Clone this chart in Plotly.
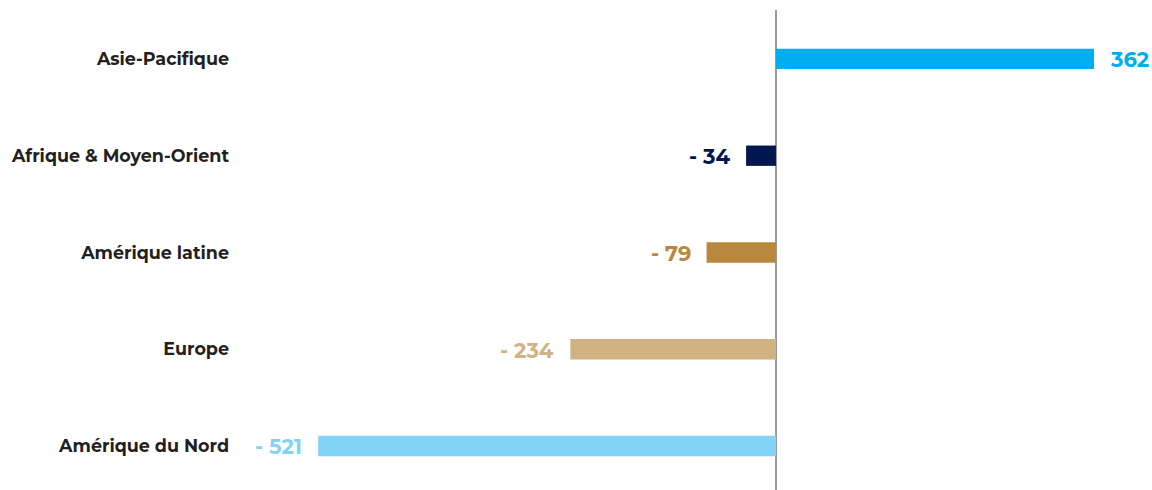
import plotly.graph_objects as go

regions = ["Amérique du Nord", "Europe", "Amérique latine", "Afrique & Moyen-Orient", "Asie-Pacifique"]
values = [-521, -234, -79, -34, 362]
labels = ["- 521", "- 234", "- 79", "- 34", "362"]
colors = ["#83D3F6", "#D1B283", "#B8893D", "#02164F", "#00AEEF"]

fig = go.Figure()
fig.add_trace(go.Bar(
    y=regions, x=values, orientation="h",
    marker=dict(color=colors, line=dict(width=0)),
    width=0.21, hoverinfo="skip",
))

for r, v, lab, c in zip(regions, values, labels, colors):
    fig.add_annotation(
        x=v, y=r, text=f"<b>{lab}</b>", showarrow=False,
        xanchor="left" if v >= 0 else "right",
        xshift=14 if v >= 0 else -14, yshift=-1,
        font=dict(family="Montserrat, Lato, 'Open Sans', sans-serif", size=21, color=c),
    )

fig.update_layout(
    width=1152, height=490,
    margin=dict(l=240, r=0, t=10, b=0),
    paper_bgcolor="white", plot_bgcolor="white",
    showlegend=False,
    xaxis=dict(range=[-610, 428], showgrid=False, showticklabels=False,
               zeroline=True, zerolinecolor="#9A9A9A", zerolinewidth=1.5),
    yaxis=dict(categoryorder="array", categoryarray=regions, range=[-0.455, 4.506],
               showgrid=False, zeroline=False, ticks="", ticklabelstandoff=10,
               tickfont=dict(family="Montserrat, Lato, 'Open Sans', sans-serif", size=17.5,
                             color="#231F20", weight="bold")),
)

fig.write_html("out.html", config={"displayModeBar": False},
               post_script="document.body.style.margin='0';")
